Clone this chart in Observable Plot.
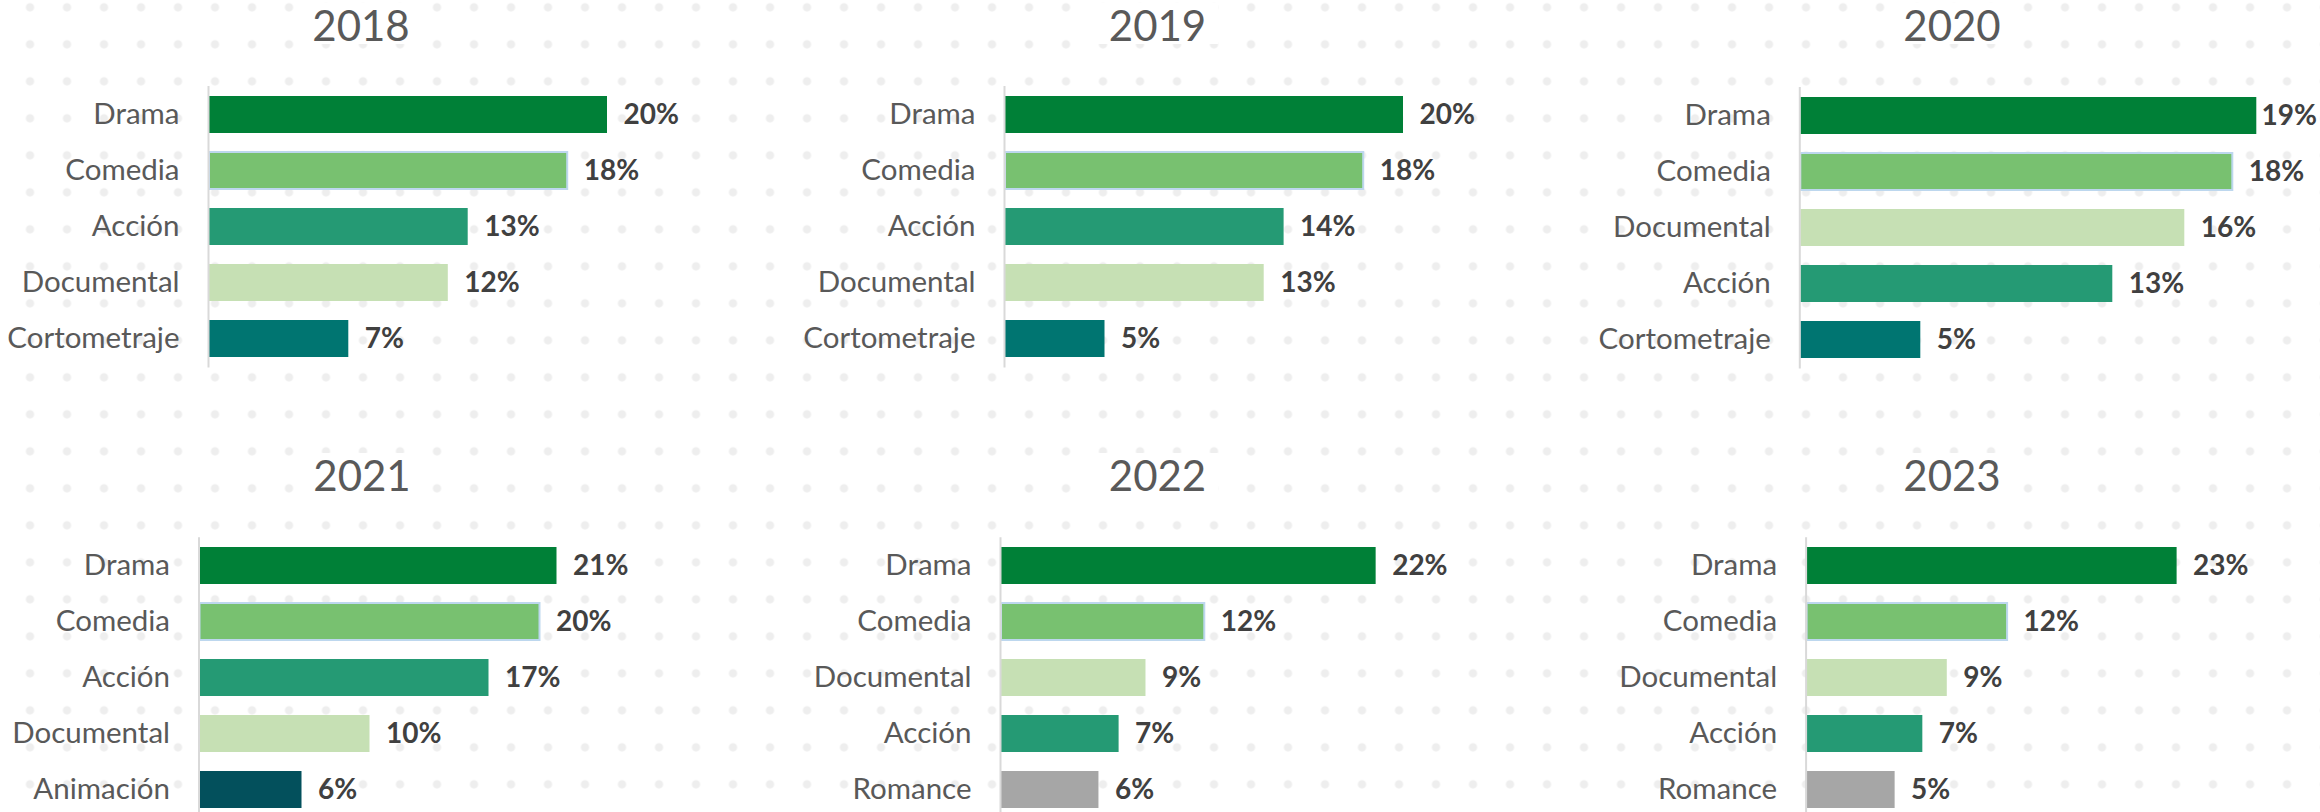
<!DOCTYPE html>
<html>
<head>
<meta charset="utf-8">
<script src="https://cdn.jsdelivr.net/npm/d3@7"></script>
<script src="https://cdn.jsdelivr.net/npm/@observablehq/plot@0.6"></script>
<style>
  html, body { margin: 0; padding: 0; background: #fff; }
  #chart {
    position: relative; width: 2320px; height: 812px; overflow: hidden;
    background-color: #fff;
    background-image: radial-gradient(circle at 18.5px 18.5px, #eeeeee 3.6px, rgba(255,255,255,0) 4.6px);
    background-size: 37px 37px;
    background-position: 11.5px -11.2px;
    font-family: Lato, "Open Sans", sans-serif;
  }
  .panel { position: absolute; }
  .ttl {
    position: absolute; transform: translateX(-50%);
    background: #fff; padding: 3px 12px 0 12px;
    font-family: Lato, sans-serif; font-size: 42px; line-height: 38px;
    color: #595959; white-space: nowrap;
  }
</style>
</head>
<body>
<div id="chart"></div>
<script>
// ---- data ----
const years = ["2018", "2019", "2020", "2021", "2022", "2023"];

const cats2018 = ["Drama", "Comedia", "Acción", "Documental", "Cortometraje"];
const vals2018 = [20, 18, 13, 12, 7];

const cats2019 = ["Drama", "Comedia", "Acción", "Documental", "Cortometraje"];
const vals2019 = [20, 18, 14, 13, 5];

const cats2020 = ["Drama", "Comedia", "Documental", "Acción", "Cortometraje"];
const vals2020 = [19, 18, 16, 13, 5];

const cats2021 = ["Drama", "Comedia", "Acción", "Documental", "Animación"];
const vals2021 = [21, 20, 17, 10, 6];

const cats2022 = ["Drama", "Comedia", "Documental", "Acción", "Romance"];
const vals2022 = [22.3, 12.1, 8.6, 7.0, 5.8];

const cats2023 = ["Drama", "Comedia", "Documental", "Acción", "Romance"];
const vals2023 = [22.7, 12.3, 8.6, 7.1, 5.4];

const allCats = [cats2018, cats2019, cats2020, cats2021, cats2022, cats2023];
const allVals = [vals2018, vals2019, vals2020, vals2021, vals2022, vals2023];

// ---- styles ----
const genreNames  = ["Drama", "Comedia", "Acción", "Documental", "Cortometraje", "Animación", "Romance"];
const genreColors = ["#008037", "#78c170", "#259a74", "#c6e0b4", "#007571", "#03505c", "#a6a6a6"];

// ---- layout (page pixels) ----
const layout = [
  {left: 0,    svgTop: 0,   width: 780, height: 400, x0: 209,    px: 19.9,  frameTop: 86,    titleX: 361,    titleBase: 41.6},
  {left: 780,  svgTop: 0,   width: 780, height: 400, x0: 1005,   px: 19.9,  frameTop: 86,    titleX: 1157.5, titleBase: 41.6},
  {left: 1560, svgTop: 0,   width: 760, height: 400, x0: 1800.3, px: 24.0,  frameTop: 87,    titleX: 1952,   titleBase: 41.6},
  {left: 0,    svgTop: 406, width: 780, height: 420, x0: 199.5,  px: 17.0,  frameTop: 537.3, titleX: 362,    titleBase: 491},
  {left: 780,  svgTop: 406, width: 780, height: 420, x0: 1001,   px: 16.8,  frameTop: 537.3, titleX: 1157.5, titleBase: 491},
  {left: 1560, svgTop: 406, width: 760, height: 420, x0: 1806.6, px: 16.3,  frameTop: 537.3, titleX: 1952,   titleBase: 491}
];
const frameH = 281.5;
const titleFs = 42, titleLh = 38, titlePadTop = 3;
const titleBaseOffset = (titleLh - 1.2 * titleFs) / 2 + 0.987 * titleFs;
const chart = document.getElementById("chart");
const svgs = [];

years.forEach((year, i) => {
  const L = layout[i];
  const data = allCats[i].map((c, j) => ({cat: c, val: allVals[i][j]}));
  const ml = L.x0 - L.left;
  const mt = L.frameTop - L.svgTop;
  const mb = L.height - mt - frameH;
  const D = (L.width - ml) / L.px;

  const svg = Plot.plot({
    width: L.width,
    height: L.height,
    marginLeft: ml,
    marginRight: 0,
    marginTop: mt,
    marginBottom: mb,
    style: {background: "transparent", fontFamily: "Lato, sans-serif", fontSize: "28px", overflow: "visible"},
    x: {domain: [0, D], range: [ml, ml + D * L.px], axis: null},
    y: {domain: allCats[i], paddingInner: 0.333, paddingOuter: 0.1667, axis: null},
    color: {domain: genreNames, range: genreColors},
    marks: [
      Plot.barX(data, {x: "val", y: "cat", fill: "cat"}),
      Plot.barX(data, {filter: d => d.cat === "Comedia", x: "val", y: "cat", fill: "none", stroke: "#bdd7ee", strokeWidth: 2}),
      Plot.ruleX([0], {stroke: "#d9d9d9", strokeWidth: 2, dx: -1}),
      Plot.axisY({tickSize: 0, tickPadding: 30, fontSize: 29.5, color: "#595959", label: null}),
      Plot.text(data, {x: "val", y: "cat", text: d => Math.round(d.val) + "%", textAnchor: "start", dx: 16,
                       fontWeight: "bold", fill: "#404040", fontSize: 28})
    ]
  });
  const wrap = document.createElement("div");
  wrap.className = "panel";
  wrap.style.left = L.left + "px";
  wrap.style.top = L.svgTop + "px";
  wrap.appendChild(svg);
  chart.appendChild(wrap);
  svgs.push(svg);

  const t = document.createElement("div");
  t.className = "ttl";
  t.textContent = year;
  t.style.left = L.titleX + "px";
  t.style.top = Math.max(0, L.titleBase - titleBaseOffset - titlePadTop) + "px";
  chart.appendChild(t);
});

// keep value labels inside the chart area (as the spreadsheet does)
const cRect = chart.getBoundingClientRect();
svgs.forEach(svg => {
  svg.querySelectorAll('g[aria-label="text"] text').forEach(el => {
    const r = el.getBoundingClientRect();
    const over = r.right - (cRect.left + 2317);
    if (over > 0) {
      const tr = el.getAttribute("transform") || "";
      el.setAttribute("transform", `translate(${-over},0) ` + tr);
    }
  });
});
</script>
</body>
</html>
